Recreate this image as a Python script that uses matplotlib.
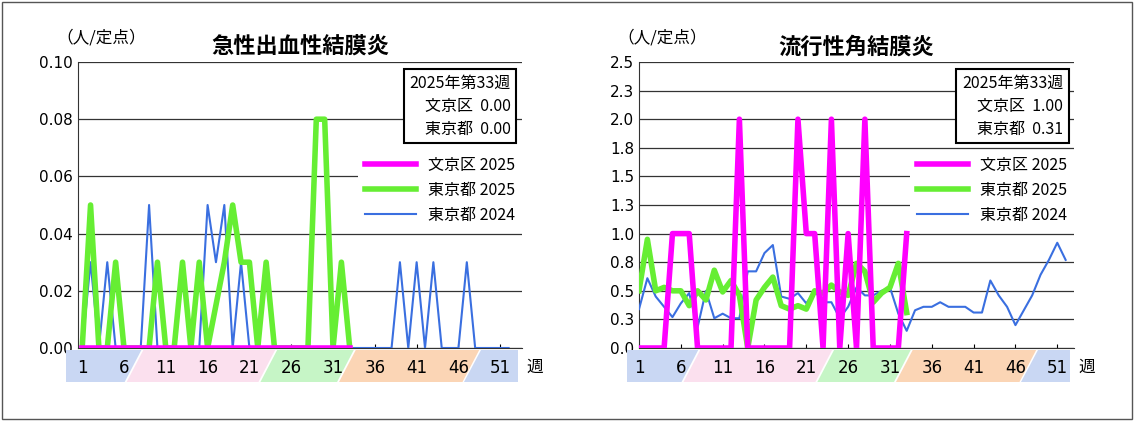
import matplotlib
matplotlib.use("Agg")
import matplotlib.pyplot as plt
from matplotlib.patches import Polygon, Rectangle
import numpy as np

plt.rcParams['font.family'] = ['Noto Sans CJK JP', 'DejaVu Sans']

weeks = list(range(1, 53))
# 急性出血性結膜炎
L_bunkyo_2025 = [0.0]*33
L_tokyo_2025 = [0, 0.05, 0, 0, 0.03, 0, 0, 0, 0, 0.03, 0, 0, 0.03, 0, 0.03, 0, 0.015, 0.03,
                0.05, 0.03, 0.03, 0, 0.03, 0, 0, 0, 0, 0, 0.08, 0.08, 0, 0.03, 0]
L_tokyo_2024 = [0, 0.03, 0, 0.03, 0, 0, 0, 0, 0.05, 0, 0, 0, 0, 0, 0, 0.05, 0.03, 0.05, 0, 0.03,
                0, 0, 0, 0, 0, 0, 0, 0, 0, 0, 0, 0, 0, 0, 0, 0, 0, 0, 0.03, 0, 0.03, 0, 0.03, 0,
                0, 0, 0.03, 0, 0, 0, 0, 0]
# 流行性角結膜炎
R_bunkyo_2025 = [0, 0, 0, 0, 1, 1, 1, 0, 0, 0, 0, 0, 2, 0, 0, 0, 0, 0, 0, 2, 1, 1, 0, 2, 0, 1,
                 0, 2, 0, 0, 0, 0, 1]
R_tokyo_2025 = [0.5, 0.95, 0.5, 0.53, 0.5, 0.5, 0.37, 0.5, 0.42, 0.68, 0.49, 0.59, 0.46, 0.0,
                0.42, 0.53, 0.62, 0.37, 0.34, 0.37, 0.34, 0.5, 0.48, 0.55, 0.49, 0.46, 0.74,
                0.67, 0.4, 0.48, 0.53, 0.74, 0.31]
R_tokyo_2024 = [0.34, 0.61, 0.45, 0.36, 0.27, 0.39, 0.48, 0.18, 0.5, 0.26, 0.3, 0.26, 0.26, 0.67,
                0.67, 0.83, 0.9, 0.45, 0.43, 0.48, 0.39, 0.5, 0.4, 0.4, 0.26, 0.36, 0.53, 0.46,
                0.46, 0.5, 0.53, 0.3, 0.15, 0.33, 0.36, 0.36, 0.4, 0.36, 0.36, 0.36, 0.31, 0.31,
                0.59, 0.46, 0.36, 0.2, 0.33, 0.46, 0.64, 0.77, 0.92, 0.77]
week_labels = [1, 6, 11, 16, 21, 26, 31, 36, 41, 46, 51]
L_yticks = [0.0, 0.02, 0.04, 0.06, 0.08, 0.10]
L_ylabels = ["0.00", "0.02", "0.04", "0.06", "0.08", "0.10"]
R_yticks = [0.0, 0.25, 0.5, 0.75, 1.0, 1.25, 1.5, 1.75, 2.0, 2.25, 2.5]
R_ylabels = ["0.0", "0.3", "0.5", "0.8", "1.0", "1.3", "1.5", "1.8", "2.0", "2.3", "2.5"]
L_box = ["2025年第33週", "文京区  0.00", "東京都  0.00"]
R_box = ["2025年第33週", "文京区  1.00", "東京都  0.31"]

W, H = 1134, 421
fig = plt.figure(figsize=(W/100, H/100), dpi=100)
fig.patches.append(Rectangle((0.002, 0.005), 0.996, 0.99, transform=fig.transFigure,
                             fill=False, edgecolor='#555555', lw=1))

def fx(px): return px / W
def fy(py): return 1 - py / H

band_cols = ['#c9d7f3', '#fbe0ee', '#c6f5c6', '#fbd5b5', '#c9d7f3']

def panel(x0, x1, xlim, yticks, ylabels, ymax, b25, t25, t24, box, title, bounds):
    ax = fig.add_axes([fx(x0), fy(348), fx(x1 - x0), fy(62) - fy(348)])
    ax.set_xlim(*xlim)
    ax.set_ylim(0, ymax)
    ax.set_yticks(yticks)
    ax.set_yticklabels(ylabels, fontsize=11, fontfamily='DejaVu Sans')
    ax.yaxis.grid(True, color='#333333', lw=0.9)
    ax.set_axisbelow(True)
    ax.set_xticks(week_labels)
    ax.set_xticklabels([])
    ax.tick_params(axis='x', length=3, direction='in')
    ax.tick_params(axis='y', length=0)
    for s in ['top', 'right']:
        ax.spines[s].set_visible(False)
    ax.spines['left'].set_color('#333333')
    ax.spines['bottom'].set_color('#333333')
    ax.plot(weeks, t24, color='#3a6fe0', lw=1.5, label='東京都 2024', zorder=3)
    ax.plot(weeks[:len(t25)], t25, color='#66ee33', lw=4, label='東京都 2025', zorder=4)
    ax.plot(weeks[:len(b25)], b25, color='#ff00ff', lw=4, label='文京区 2025', zorder=5)
    h, l = ax.get_legend_handles_labels()
    leg = ax.legend(h[::-1], l[::-1], loc='upper right', bbox_to_anchor=(1.0, 0.69),
                    frameon=True, fontsize=11.5, handlelength=3.2, borderaxespad=0)
    leg.get_frame().set_edgecolor('none')
    leg.get_frame().set_alpha(1)
    ax.text(0.975, 0.955, "\n".join(box), transform=ax.transAxes, ha='right', va='top',
            fontsize=11.5, linespacing=1.45,
            bbox=dict(boxstyle='square,pad=0.35', fc='white', ec='black', lw=1.5), zorder=10)
    ax.set_title(title, fontsize=16, fontweight='bold', pad=6)
    fig.text(fx(x0 - 22), fy(38), "（人/定点）", fontsize=12, va='center')
    # band
    bx = fig.add_axes([fx(x0 - 12), fy(382), fx(x1 - x0 + 8), fy(350) - fy(382)])
    xr = xlim[1] - xlim[0]
    scale = (x1 - x0 + 8) / (x1 - x0)
    left = xlim[0] - xr * (12 / (x1 - x0))
    bx.set_xlim(left, left + xr * scale)
    bx.set_ylim(0, 1)
    bx.axis('off')
    edges = [left] + bounds + [left + xr * scale]
    for i in range(5):
        a, b = edges[i], edges[i + 1]
        g = 0.12
        pts = [(a - 1 + g if i > 0 else a, 0), (b - 1 - g if i < 4 else b, 0),
               (b + 1 - g if i < 4 else b, 1), (a + 1 + g if i > 0 else a, 1)]
        bx.add_patch(Polygon(pts, closed=True, fc=band_cols[i], ec='none'))
    for w in week_labels:
        bx.text(w, 0.45, str(w), ha='center', va='center', fontsize=12,
                fontfamily='DejaVu Sans')
    fig.text(fx(x1 + 4), fy(367), "週", fontsize=12, va='center')
    return ax

panel(78, 522, (0.5, 53.6), L_yticks, L_ylabels, 0.10,
      L_bunkyo_2025, L_tokyo_2025, L_tokyo_2024, L_box, "急性出血性結膜炎",
      [7.2, 23.2, 32.6, 47.6])
panel(639, 1074, (1, 53), R_yticks, R_ylabels, 2.5,
      R_bunkyo_2025, R_tokyo_2025, R_tokyo_2024, R_box, "流行性角結膜炎",
      [7.2, 23.2, 32.6, 47.6])

fig.savefig("out.png", dpi=100)
